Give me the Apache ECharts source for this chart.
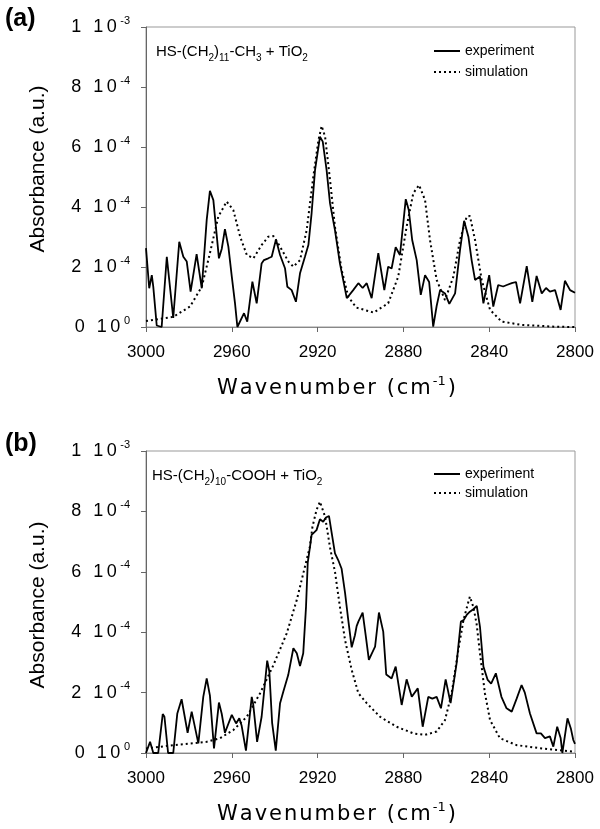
<!DOCTYPE html>
<html><head><meta charset="utf-8">
<script src="https://cdn.jsdelivr.net/npm/echarts@6/dist/echarts.min.js"></script>
<style>html,body{margin:0;padding:0;background:#fff}#c{width:600px;height:829px}</style>
</head><body><div id="c"></div>
<script>
// Absorbance values are in units of 1e-4 (a.u.)
const xTicks = [3000, 2960, 2920, 2880, 2840, 2800];
const yTicks = [0, 2, 4, 6, 8, 10];

// Panel (a): HS-(CH2)11-CH3 + TiO2
const wnExpA = [3000,2998.5,2997.3,2996.6,2995.0,2992.7,2990.3,2987.3,2984.5,2982.6,2981.0,2979.2,2976.4,2974.0,2971.7,2970.2,2968.6,2966.0,2964.7,2963.2,2961.6,2960.0,2958.5,2957.4,2954.3,2952.8,2950.4,2948.4,2946.1,2945.0,2943.0,2941.4,2939.4,2937.5,2935.2,2934.1,2932.1,2930.1,2928.2,2925.9,2924.3,2922.8,2921.2,2918.9,2917.6,2915.8,2914.2,2911.9,2909.6,2906.4,2903.4,2901.0,2899.0,2897.1,2894.8,2891.7,2888.9,2887.1,2885.5,2883.6,2881.6,2878.9,2877.5,2875.9,2873.8,2871.9,2869.9,2868.0,2866.1,2864.5,2862.9,2860.6,2858.6,2855.9,2853.6,2851.7,2849.7,2848.2,2846.6,2844.3,2842.7,2840.0,2838.1,2835.8,2833.5,2831.8,2829.5,2827.5,2825.6,2822.5,2819.9,2817.9,2815.5,2813.5,2811.7,2809.3,2806.7,2804.7,2802.3,2800.0];
const absExpA = [2.63,1.29,1.73,1.34,0.05,0.0,2.34,0.3,2.84,2.34,2.18,1.18,2.43,1.29,3.57,4.54,4.23,2.29,2.6,3.26,2.68,1.68,0.79,0.0,0.46,0.18,1.51,0.79,2.12,2.23,2.29,2.34,2.92,2.4,1.96,1.34,1.23,0.84,1.79,2.34,2.73,3.79,5.23,6.34,6.18,5.23,4.12,3.23,2.12,0.96,1.23,1.46,1.3,1.46,0.96,2.46,1.23,2.01,1.95,2.66,2.4,4.26,3.9,2.9,2.23,1.07,1.73,1.5,0.01,0.7,1.23,1.12,0.77,1.12,2.57,3.54,3.01,2.23,1.57,1.68,0.79,1.73,0.68,1.4,1.35,1.4,1.46,1.5,0.79,2.03,0.84,1.7,1.12,1.3,1.18,1.23,0.57,1.54,1.23,1.14];
const wnSimA = [3000,2987.3,2979.5,2974.0,2970.2,2966.3,2962.4,2959.3,2956.1,2953.0,2949.9,2946.1,2943.0,2940.6,2937.5,2933.6,2931.3,2928.2,2925.1,2922.0,2919.6,2918.1,2916.5,2914.2,2911.9,2908.8,2905.7,2902.0,2893.9,2887.1,2882.4,2878.5,2875.4,2872.7,2869.9,2867.6,2864.5,2860.6,2856.7,2853.6,2850.5,2849.0,2846.6,2843.5,2839.6,2834.2,2824.8,2809.3,2800];
const absSimA = [0.2,0.34,0.68,1.34,2.46,3.68,4.18,3.9,3.01,2.4,2.29,2.73,3.01,3.03,2.68,2.18,2.01,2.23,3.23,5.01,6.23,6.7,6.34,4.9,3.34,1.9,1.01,0.65,0.48,0.79,1.68,3.34,4.46,4.73,4.23,2.9,1.57,0.9,1.68,2.9,3.68,3.7,2.9,1.57,0.57,0.18,0.07,0.01,0.0];

// Panel (b): HS-(CH2)10-COOH + TiO2
const wnExpB = [3000,2998.1,2996.6,2994.3,2992.2,2991.4,2989.7,2987.3,2985.4,2983.4,2980.6,2978.7,2975.6,2973.3,2971.7,2970.2,2968.3,2966.0,2964.7,2963.2,2960.0,2958.0,2956.5,2955.4,2953.4,2950.7,2950.0,2948.2,2946.1,2943.5,2942.5,2941.2,2939.5,2937.5,2936.0,2933.7,2931.3,2929.7,2928.2,2926.7,2925.4,2924.6,2923.4,2922.8,2920.5,2918.9,2917.4,2916.1,2914.7,2913.4,2911.9,2910.4,2908.8,2907.2,2905.7,2904.1,2902.6,2901.8,2901.0,2900.2,2899.0,2897.5,2896.1,2894.7,2893.2,2891.4,2889.4,2888.0,2885.5,2883.6,2880.8,2878.5,2876.1,2873.3,2871.0,2868.4,2866.5,2864.5,2862.5,2860.3,2858.0,2855.2,2853.2,2851.9,2850.5,2849.0,2847.4,2845.8,2844.3,2842.7,2840.7,2839.1,2836.9,2834.3,2831.9,2829.5,2827.2,2824.9,2823.4,2821.0,2817.9,2815.9,2814.0,2811.7,2810.1,2808.3,2806.7,2805.9,2803.5,2801.9,2800.8,2800];
const absExpB = [0,0.37,0,0,1.29,1.2,0,0,1.31,1.78,0.67,1.37,0.32,1.86,2.47,1.9,0.15,1.67,1.3,0.67,1.26,0.98,1.15,0.9,0.08,1.86,1.6,0.37,1.2,3.06,2.7,1.0,0.08,1.65,2.03,2.58,3.47,3.3,2.88,3.3,4.84,6.3,6.9,7.22,7.38,7.74,7.66,7.8,7.85,7.27,6.61,6.39,6.1,5.3,4.4,3.5,3.9,4.2,4.35,4.4,4.65,3.85,3.08,3.3,3.52,4.65,4.02,2.6,2.47,2.86,1.59,2.44,1.86,2.14,0.87,1.86,1.8,1.86,1.48,2.44,1.65,2.97,4.35,4.4,4.57,4.68,4.76,4.87,4.18,2.86,2.42,2.3,2.64,1.86,1.48,1.37,1.8,2.25,2.0,1.31,0.65,0.65,0.49,0.55,0.21,0.87,0.5,0,1.15,0.8,0.43,0.3];
const wnSimB = [3000,2987.3,2971.7,2965.5,2959.3,2953.0,2946.8,2940.6,2934.4,2929.7,2925.9,2923.6,2922.4,2920.5,2918.9,2916.5,2915.0,2914.2,2911.9,2909.6,2907.2,2904.1,2901.0,2897.1,2890.9,2883.2,2875.4,2870.0,2864.5,2860.6,2857.5,2854.4,2852.0,2849.7,2849.0,2847.4,2845.9,2844.3,2842.0,2839.6,2835.0,2827.2,2816.3,2800];
const absSimB = [0.15,0.26,0.37,0.49,0.76,1.2,1.98,2.91,3.96,5.07,6.17,6.83,7.49,8.05,8.32,7.82,7.16,6.8,6.0,4.84,3.74,2.75,1.98,1.65,1.2,0.87,0.65,0.6,0.71,1.09,1.98,3.41,4.4,5.01,5.18,4.84,4.29,3.3,1.98,1.09,0.49,0.26,0.16,0.04];

const pairs = (xs, ys) => xs.map((x, i) => [x, ys[i]]);
const FONT = '"Liberation Sans", Arial, sans-serif';
const DJ = '"DejaVu Sans", sans-serif';
// spread characters of a string into rich tokens (emulates letter spacing)
const spread = (str, style) => str.split('').map(ch => '{' + style + '|' + ch + '}').join('');

const yLabelRich = {
  d: {fontSize: 18, fontFamily: FONT, color: '#000', lineHeight: 24, padding: [0, 3.5, 0, 0]},
  s: {fontSize: 11, fontFamily: FONT, color: '#000', lineHeight: 13, verticalAlign: 'top'}
};
function yFmt(v) {
  if (v === 10) return spread('1 10', 'd') + '{s|-3}';
  if (v === 0) return spread('0 10', 'd') + '{s|0}';
  return spread(v + ' 10', 'd') + '{s|-4}';
}
const titleRich = {
  n: {fontSize: 15, fontFamily: FONT, fontWeight: 'normal', color: '#000', lineHeight: 22},
  s: {fontSize: 10, fontFamily: FONT, fontWeight: 'normal', color: '#000', lineHeight: 10, verticalAlign: 'bottom'}
};
const nameRich = {
  c: {fontSize: 21, fontFamily: DJ, color: '#000', lineHeight: 28, padding: [0, 2, 0, 0]},
  s: {fontSize: 13, fontFamily: DJ, color: '#000', lineHeight: 13, verticalAlign: 'top', padding: [0, 2, 0, 0]}
};
const xName = spread('Wavenumber (cm', 'c') + '{s|-1}' + spread(')', 'c');

function xAxis(gi) {
  return {
    gridIndex: gi, type: 'value', inverse: true, min: 2800, max: 3000, interval: 40,
    axisLine: {show: true, lineStyle: {color: '#888', width: 1}},
    axisTick: {show: true, inside: false, length: 5, lineStyle: {color: '#666'}},
    axisLabel: {margin: 17, fontSize: 17, fontFamily: FONT, color: '#000', formatter: v => String(v)},
    splitLine: {show: false},
    name: xName, nameLocation: 'middle', nameGap: 48,
    nameTextStyle: {rich: nameRich, padding: [0, 46, 0, 0]}
  };
}
function yAxis(gi) {
  return {
    gridIndex: gi, type: 'value', min: 0, max: 10, interval: 2,
    axisLine: {show: true, lineStyle: {color: '#666', width: 1}},
    axisTick: {show: true, inside: false, length: 5, lineStyle: {color: '#666'}},
    axisLabel: {margin: 16, formatter: yFmt, rich: yLabelRich},
    splitLine: {show: false},
    name: 'Absorbance (a.u.)', nameLocation: 'middle', nameGap: 97,
    nameTextStyle: {fontSize: 21, fontFamily: FONT, color: '#000', padding: gi === 0 ? [0, 0, 0, 16] : [0, 6, 0, 0]}
  };
}
const expStyle = {color: '#000', width: 1.8, type: 'solid'};
const simStyle = {color: '#000', width: 2, type: [2, 3]};
function ser(name, gi, data, style) {
  return {name: name, type: 'line', xAxisIndex: gi, yAxisIndex: gi, data: data,
    symbol: 'none', showSymbol: false, lineStyle: style, itemStyle: {color: '#000'},
    clip: true, animation: false, z: name === 'experiment' ? 3 : 2};
}
const legendCommon = {
  data: ['experiment', 'simulation'], orient: 'vertical', left: 428, itemWidth: 26, itemHeight: 12,
  itemStyle: {opacity: 0},
  textStyle: {fontSize: 14, fontFamily: FONT, color: '#000'}, selectedMode: false
};

const chart = echarts.init(document.getElementById('c'), null, {renderer: 'canvas'});
chart.setOption({
  backgroundColor: '#fff',
  animation: false,
  grid: [
    {left: 146, top: 27, width: 429, height: 300, show: true, borderColor: '#999', borderWidth: 1, backgroundColor: 'transparent'},
    {left: 146, top: 451, width: 429, height: 302, show: true, borderColor: '#999', borderWidth: 1, backgroundColor: 'transparent'}
  ],
  title: [
    {text: '{n|HS-(CH}{s|2}{n|)}{s|11}{n|-CH}{s|3}{n| + TiO}{s|2}', left: 151, top: 36, textStyle: {rich: titleRich}},
    {text: '{n|HS-(CH}{s|2}{n|)}{s|10}{n|-COOH + TiO}{s|2}', left: 147, top: 460, textStyle: {rich: titleRich}}
  ],
  legend: [
    Object.assign({}, legendCommon, {top: 39, itemGap: 7}),
    Object.assign({}, legendCommon, {top: 462, itemGap: 5})
  ],
  xAxis: [xAxis(0), xAxis(1)],
  yAxis: [yAxis(0), yAxis(1)],
  series: [
    ser('experiment', 0, pairs(wnExpA, absExpA), expStyle),
    ser('simulation', 0, pairs(wnSimA, absSimA), simStyle),
    ser('experiment', 1, pairs(wnExpB, absExpB), expStyle),
    ser('simulation', 1, pairs(wnSimB, absSimB), simStyle)
  ],
  graphic: [
    {type: 'text', left: 5, top: 7, style: {text: '(a)', font: 'bold 25px "Liberation Sans", Arial, sans-serif', fill: '#000'}},
    {type: 'text', left: 5, top: 432, style: {text: '(b)', font: 'bold 25px "Liberation Sans", Arial, sans-serif', fill: '#000'}}
  ]
});
</script>
</body></html>
